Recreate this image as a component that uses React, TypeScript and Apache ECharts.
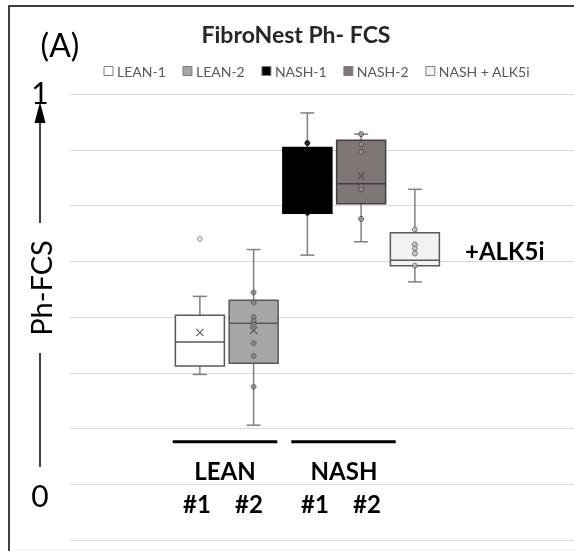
import React, { useEffect, useRef } from 'react';
import * as echarts from 'echarts';

const categories = ['LEAN-1', 'LEAN-2', 'NASH-1', 'NASH-2', 'NASH + ALK5i'];
const boxMin = [0.297, 0.206, 0.511, 0.535, 0.463];
const boxQ1 = [0.312, 0.317, 0.586, 0.603, 0.492];
const boxMedian = [0.355, 0.389, 0.645, 0.639, 0.502];
const boxQ3 = [0.403, 0.430, 0.704, 0.717, 0.551];
const boxMax = [0.437, 0.521, 0.766, 0.728, 0.629];
const meanValues: (number | string)[] = [0.372, 0.376, '-', 0.653, '-'];
const pointsLean1 = [0.540];
const pointsLean2 = [0.444, 0.426, 0.400, 0.393, 0.386, 0.353, 0.330, 0.275];
const pointsNash1 = [0.712, 0.587];
const pointsNash2 = [0.728, 0.710, 0.696, 0.634, 0.629, 0.576];
const pointsAlk5i = [0.557, 0.530, 0.523, 0.514, 0.492];
const yTickLabels = ['1', '0'];
const groupLabels = ['LEAN', 'NASH'];
const subLabels = ['#1', '#2', '#1', '#2'];

const boxFill = ['#ffffff', '#a6a6a6', '#000000', '#7f7776', '#f2f2f2'];
const boxBorder = ['#595959', '#595959', '#000000', '#404040', '#595959'];
const pointFill = ['#d9d9d9', '#7f7f7f', '#000000', '#9a9493', '#bfbfbf'];
const pointBorder = ['#808080', '#595959', '#000000', '#404040', '#595959'];

export default function App() {
  const ref = useRef<HTMLDivElement>(null);
  useEffect(() => {
    if (!ref.current) return;
    const chart = echarts.init(ref.current, null, { renderer: 'svg' });
    const FONT = 'Lato, "Open Sans", sans-serif';

    // legend layout
    const cv = document.createElement('canvas').getContext('2d') as CanvasRenderingContext2D;
    const legendFontSize = 14;
    cv.font = `${legendFontSize}px Lato`;
    const widths = categories.map((c) => cv.measureText(c).width);
    const iconW = 9;
    const iconGap = 4;
    const legStart = 104;
    const legEnd = 530;
    const sumW = widths.reduce((a, b) => a + b, 0) + categories.length * (iconW + iconGap);
    const gap = (legEnd - legStart - sumW) / (categories.length - 1);
    const legendEls: any[] = [];
    let lx = legStart;
    const ly = 71;
    categories.forEach((c, i) => {
      legendEls.push({
        type: 'rect',
        shape: { x: lx, y: ly - iconW / 2, width: iconW, height: iconW },
        style: { fill: boxFill[i], stroke: '#7f7f7f', lineWidth: 1 },
      });
      legendEls.push({
        type: 'text',
        style: {
          text: c, x: lx + iconW + iconGap, y: ly, fill: '#595959',
          font: `${legendFontSize}px ${FONT}`, textAlign: 'left', textVerticalAlign: 'middle',
        },
      });
      lx += iconW + iconGap + widths[i] + gap;
    });

    const boxData = categories.map((c, i) => [i, boxMin[i], boxQ1[i], boxMedian[i], boxQ3[i], boxMax[i]]);
    const allPoints = [pointsLean1, pointsLean2, pointsNash1, pointsNash2, pointsAlk5i];
    const pointData: any[] = [];
    allPoints.forEach((arr, i) => {
      arr.forEach((v) => {
        pointData.push({
          value: [i, v],
          itemStyle: { color: pointFill[i], borderColor: pointBorder[i], borderWidth: 1 },
        });
      });
    });
    const meanData = meanValues.map((v, i) => [i, v]);

    const xPath = 'path://M0,1L1,0L5,4L9,0L10,1L6,5L10,9L9,10L5,6L1,10L0,9L4,5Z';

    const option: any = {
      animation: false,
      grid: [
        { left: 70, right: 0, top: 94, bottom: 11 },
        { left: 173, right: 132.25, top: 94, bottom: 11 },
      ],
      xAxis: [
        { type: 'value', gridIndex: 0, min: 0, max: 1, show: false },
        { type: 'category', gridIndex: 1, data: categories, show: false },
      ],
      yAxis: [
        {
          type: 'value', gridIndex: 0, min: 0, max: 0.8, interval: 0.1,
          axisLine: { show: false }, axisTick: { show: false }, axisLabel: { show: false },
          splitLine: { show: true, lineStyle: { color: '#d9d9d9', width: 1 } },
        },
        { type: 'value', gridIndex: 1, min: 0, max: 0.8, interval: 0.1, show: false },
      ],
      series: [
        {
          type: 'custom',
          xAxisIndex: 1,
          yAxisIndex: 1,
          z: 2,
          data: boxData,
          encode: { x: 0, y: [1, 2, 3, 4, 5] },
          renderItem: (params: any, api: any) => {
            const idx = api.value(0);
            const p = [1, 2, 3, 4, 5].map((k) => api.coord([idx, api.value(k)]));
            const cx = p[0][0];
            const bw = 49;
            const half = bw / 2;
            const cap = 7;
            const wStyle = { stroke: '#808080', lineWidth: 1.5 };
            return {
              type: 'group',
              children: [
                { type: 'line', shape: { x1: cx, y1: p[4][1], x2: cx, y2: p[3][1] }, style: wStyle },
                { type: 'line', shape: { x1: cx, y1: p[1][1], x2: cx, y2: p[0][1] }, style: wStyle },
                { type: 'line', shape: { x1: cx - cap, y1: p[4][1], x2: cx + cap, y2: p[4][1] }, style: wStyle },
                { type: 'line', shape: { x1: cx - cap, y1: p[0][1], x2: cx + cap, y2: p[0][1] }, style: wStyle },
                {
                  type: 'rect',
                  shape: { x: cx - half, y: p[3][1], width: bw, height: p[1][1] - p[3][1] },
                  style: { fill: boxFill[idx], stroke: boxBorder[idx], lineWidth: 1.5 },
                },
                {
                  type: 'line',
                  shape: { x1: cx - half, y1: p[2][1], x2: cx + half, y2: p[2][1] },
                  style: { stroke: boxBorder[idx], lineWidth: 1.5 },
                },
              ],
            };
          },
        },
        {
          type: 'scatter',
          xAxisIndex: 1,
          yAxisIndex: 1,
          z: 3,
          symbol: 'circle',
          symbolSize: 5,
          data: pointData,
        },
        {
          type: 'scatter',
          xAxisIndex: 1,
          yAxisIndex: 1,
          z: 4,
          symbol: xPath,
          symbolSize: 8,
          itemStyle: { color: '#404040' },
          data: meanData,
        },
      ],
      graphic: [
        {
          type: 'rect', silent: true,
          shape: { x: 9, y: 6, width: 620, height: 620 },
          style: { fill: 'none', stroke: '#404040', lineWidth: 2 },
        },
        {
          type: 'line', shape: { x1: 12, y1: 550, x2: 574, y2: 550 },
          style: { stroke: '#ececec', lineWidth: 1 },
        },
        {
          type: 'text',
          style: { text: '(A)', x: 60, y: 44, font: `32px ${FONT}`, fill: '#000', textAlign: 'center', textVerticalAlign: 'middle' },
        },
        {
          type: 'text',
          style: { text: 'FibroNest Ph- FCS', x: 296, y: 34, font: `bold 23px ${FONT}`, fill: '#262626', textAlign: 'center', textVerticalAlign: 'middle' },
        },
        ...legendEls,
        {
          type: 'text',
          style: { text: yTickLabels[0], x: 40, y: 92, font: `30px ${FONT}`, fill: '#000', textAlign: 'center', textVerticalAlign: 'middle' },
        },
        {
          type: 'text',
          style: { text: yTickLabels[1], x: 40, y: 495, font: `30px ${FONT}`, fill: '#000', textAlign: 'center', textVerticalAlign: 'middle' },
        },
        {
          type: 'text', x: 40, y: 288, rotation: Math.PI / 2,
          style: { text: 'Ph-FCS', x: 0, y: 0, font: `29px ${FONT}`, fill: '#000', textAlign: 'center', textVerticalAlign: 'middle' },
        },
        {
          type: 'polygon',
          shape: { points: [[40, 102], [34.5, 123], [45.5, 123]] },
          style: { fill: '#000' },
        },
        { type: 'line', shape: { x1: 40, y1: 122, x2: 40, y2: 223 }, style: { stroke: '#000', lineWidth: 1.5 } },
        { type: 'line', shape: { x1: 40, y1: 353, x2: 40, y2: 467 }, style: { stroke: '#000', lineWidth: 1.5 } },
        { type: 'line', shape: { x1: 172.7, y1: 441.7, x2: 277.3, y2: 441.7 }, style: { stroke: '#000', lineWidth: 3 } },
        { type: 'line', shape: { x1: 291.3, y1: 441.7, x2: 395.7, y2: 441.7 }, style: { stroke: '#000', lineWidth: 3 } },
        {
          type: 'text',
          style: { text: groupLabels[0], x: 225, y: 470, font: `bold 24px ${FONT}`, fill: '#000', textAlign: 'center', textVerticalAlign: 'middle' },
        },
        {
          type: 'text',
          style: { text: groupLabels[1], x: 344, y: 470, font: `bold 24px ${FONT}`, fill: '#000', textAlign: 'center', textVerticalAlign: 'middle' },
        },
        ...subLabels.map((t, i) => ({
          type: 'text',
          style: { text: t, x: [197, 249, 315, 367][i], y: 503, font: `bold 24px ${FONT}`, fill: '#000', textAlign: 'center', textVerticalAlign: 'middle' },
        })),
        {
          type: 'text',
          style: { text: '+ALK5i', x: 465, y: 250, font: `bold 24px ${FONT}`, fill: '#000', textAlign: 'left', textVerticalAlign: 'middle' },
        },
      ],
    };
    chart.setOption(option);
    return () => chart.dispose();
  }, []);
  return <div ref={ref} style={{ position: 'fixed', left: 0, top: 0, width: 574, height: 551 }} />;
}
